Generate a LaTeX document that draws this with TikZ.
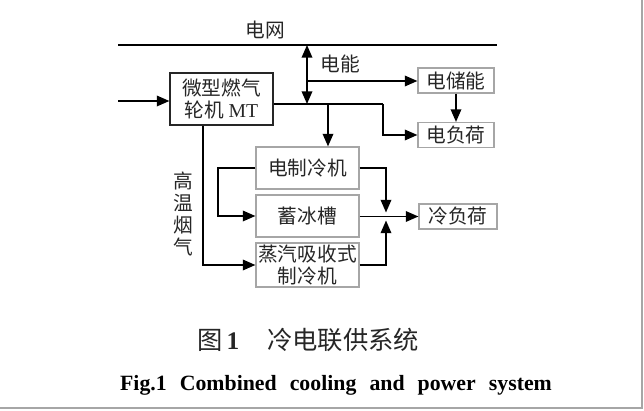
\documentclass[tikz,border=0pt]{standalone}
\usepackage{fontspec}
\setmainfont{Liberation Serif}
\newfontfamily\cjk{Noto Sans CJK SC}
\usepackage{tikz}
\usetikzlibrary{arrows.meta, positioning, calc}

\begin{document}
\begin{tikzpicture}[x=0.025cm, y=-0.025cm,
    unit/.style={draw=gray!70, line width=0.8pt, minimum width=2.575cm, minimum height=1.05cm, inner sep=1pt, align=center, font=\cjk\fontsize{14}{16}\selectfont, text=black!85},
    load/.style={unit, minimum width=1.9cm, minimum height=0.625cm},
    flow/.style={line width=1.2pt, -{Triangle[length=9pt,width=7.5pt]}},
    wire/.style={line width=1.2pt}]

        \useasboundingbox (0,0) rectangle (644,411);

        \coordinate (gridL) at (118,45);
        \coordinate (gridR) at (497,45);
        \draw[wire] (gridL) -- (gridR);
        \node[font=\cjk\fontsize{14}{16}\selectfont, text=black!85] (grid) at (265,30) {电网};

        \node[unit, draw=black!85, minimum height=1.3cm] (mt) at (221.5,99) {微型燃气\\轮机 {\rmfamily MT}};
        \node[load] (chu) at (456,80.5) {电储能};
        \node[load] (fuh) at (456,135) {电负荷};
        \node[unit] (zhi) at (307.5,168) {电制冷机};
        \node[unit] (bing) at (307.5,216) {蓄冰槽};
        \node[unit, minimum height=1.1cm, inner sep=0pt, font=\cjk\fontsize{14}{15.5}\selectfont] (xi) at (307.5,265) {蒸汽吸收式\\制冷机};
        \node[load, minimum width=1.95cm] (leng) at (458,216.5) {冷负荷};

        \coordinate (in) at (118,101);
        \draw[flow] (in) -- (mt.west |- in);

        \coordinate (bus) at (307,104);
        \coordinate (split) at (383,104);
        \draw[line width=1.2pt, {Triangle[length=9pt,width=7.5pt]}-{Triangle[length=9pt,width=7.5pt]}] (307,45) -- (bus);
        \node[font=\cjk\fontsize{14}{16}\selectfont, text=black!85] (dianneng) at (340,64) {电能};
        \draw[flow] (307,81) -- (chu.west |- 307,81);
        \draw[wire] (mt.east |- bus) -- (split);
        \draw[flow] (split) -- (383,135) -- (fuh.west |- 383,135);
        \draw[flow] (328,104) -- (328,104 |- zhi.north);
        \draw[flow] (chu.south) -- (fuh.north);

        \draw[flow] (203,99 |- mt.south) -- (203,265) -- (xi.west);
        \node[font=\cjk\fontsize{14}{15.5}\selectfont, text=black!85, align=center] (yanqi) at (183,214) {高\\温\\烟\\气};

        \coordinate (join) at (386,216.5);
        \draw[flow] (zhi.west) -- (218,168) -- (218,216) -- (bing.west);
        \draw[flow] (zhi.east) -- (386,168) -- ($(join)+(0,-4)$);
        \draw[flow] (xi.east) -- (386,265) -- ($(join)+(0,4)$);
        \draw[flow] (bing.east |- join) -- (leng.west);

        \node[font=\fontsize{18}{20}\selectfont, text=black!85] (cncap) at (308,340) {{\cjk 图}\,\textbf{1}\hspace{1.1em}{\cjk 冷电联供系统}};
        \node[font=\bfseries\fontsize{15.5}{18}\selectfont] (encap) at (336,385) {Fig.1\hspace{0.6em}Combined\hspace{0.6em}cooling\hspace{0.6em}and\hspace{0.6em}power\hspace{0.6em}system};

        \draw[gray!70, line width=1.2pt] (642,0) -- (642,408) -- (0,408);

    \end{tikzpicture}
\end{document}
